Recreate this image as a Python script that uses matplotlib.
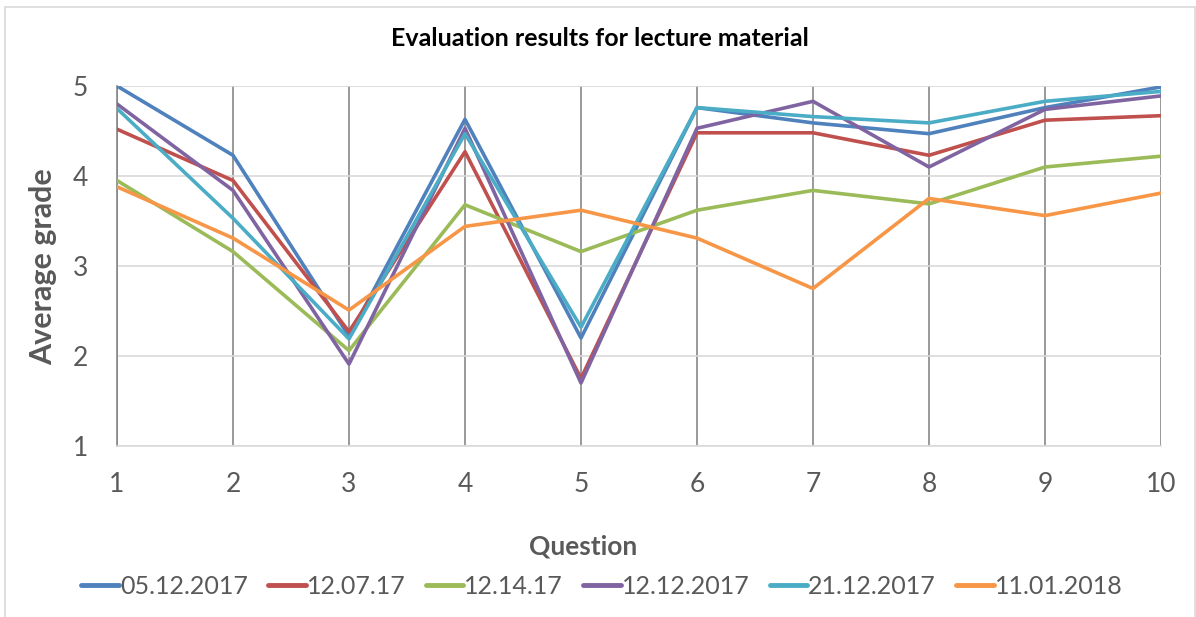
import matplotlib

matplotlib.use("Agg")
from matplotlib import pyplot as plt
from matplotlib.patches import Rectangle

questions = [1, 2, 3, 4, 5, 6, 7, 8, 9, 10]
series_names = ["05.12.2017", "12.07.17", "12.14.17", "12.12.2017", "21.12.2017", "11.01.2018"]

grades_0512 = [5.00, 4.23, 2.22, 4.63, 2.20, 4.76, 4.59, 4.47, 4.76, 4.99]
grades_1207 = [4.52, 3.95, 2.27, 4.27, 1.75, 4.48, 4.48, 4.23, 4.62, 4.67]
grades_1214 = [3.95, 3.16, 2.06, 3.68, 3.16, 3.62, 3.84, 3.69, 4.10, 4.22]
grades_1212 = [4.80, 3.84, 1.91, 4.53, 1.70, 4.53, 4.83, 4.10, 4.74, 4.89]
grades_2112 = [4.75, 3.53, 2.19, 4.47, 2.32, 4.76, 4.66, 4.59, 4.83, 4.94]
grades_1101 = [3.88, 3.31, 2.51, 3.44, 3.62, 3.31, 2.75, 3.75, 3.56, 3.81]

colors = ["#4F81BD", "#C0504D", "#9BBB59", "#8064A2", "#4BACC6", "#F79646"]
all_grades = [grades_0512, grades_1207, grades_1214, grades_1212, grades_2112, grades_1101]

plt.rcParams["font.family"] = ["Lato", "DejaVu Sans"]
text_gray = "#595959"

W, H = 1196, 617
fig = plt.figure(figsize=(W / 100, H / 100), dpi=100)
ax = fig.add_axes([117 / W, 1 - 446 / H, (1161 - 117) / W, (446 - 86) / H])

# chart border (Excel-style frame, bottom edge cut off)
fig.patches.append(Rectangle((5 / W, -0.05), 1190 / W, 1.05 - 7 / H, transform=fig.transFigure,
                             fill=False, edgecolor="#D9D9D9", linewidth=1.2))

for name, vals, col in zip(series_names, all_grades, colors):
    ax.plot(questions, vals, color=col, linewidth=2.6, label=name, solid_capstyle="round", zorder=3)

ax.set_xlim(1, 10)
ax.set_ylim(1, 5)
ax.set_xticks(questions)
ax.set_yticks([1, 2, 3, 4, 5])

ax.grid(axis="x", color="#878787", linewidth=1.2, zorder=1)
ax.grid(axis="y", color="#D9D9D9", linewidth=1.2, zorder=1)
for side in ["top", "right"]:
    ax.spines[side].set_visible(False)
ax.spines["left"].set_color("#878787")
ax.spines["left"].set_linewidth(1.2)
ax.spines["bottom"].set_color("#D9D9D9")
ax.spines["bottom"].set_linewidth(1.2)

ax.tick_params(axis="both", length=0, labelsize=19, labelcolor=text_gray)
ax.tick_params(axis="y", pad=21)
ax.tick_params(axis="x", pad=19)

fig.text(600 / W, 1 - 38 / H, "Evaluation results for lecture material", ha="center", va="center",
         fontsize=18, fontweight="bold", color="#000000")
fig.text(43 / W, 1 - 267 / H, "Average grade", ha="center", va="center", rotation=90,
         fontsize=22, fontweight="bold", color=text_gray)
fig.text(583 / W, 1 - 547 / H, "Question", ha="center", va="center",
         fontsize=19, fontweight="bold", color=text_gray)

leg = fig.legend(loc="center", bbox_to_anchor=(602 / W, 1 - 586 / H), ncol=6, frameon=False,
                 fontsize=18, handlelength=1.5, handletextpad=0.05, columnspacing=0.8,
                 labelcolor=text_gray)
for line in leg.get_lines():
    line.set_linewidth(3.5)

fig.savefig("out.png", dpi=100, facecolor="white")
plt.close(fig)
